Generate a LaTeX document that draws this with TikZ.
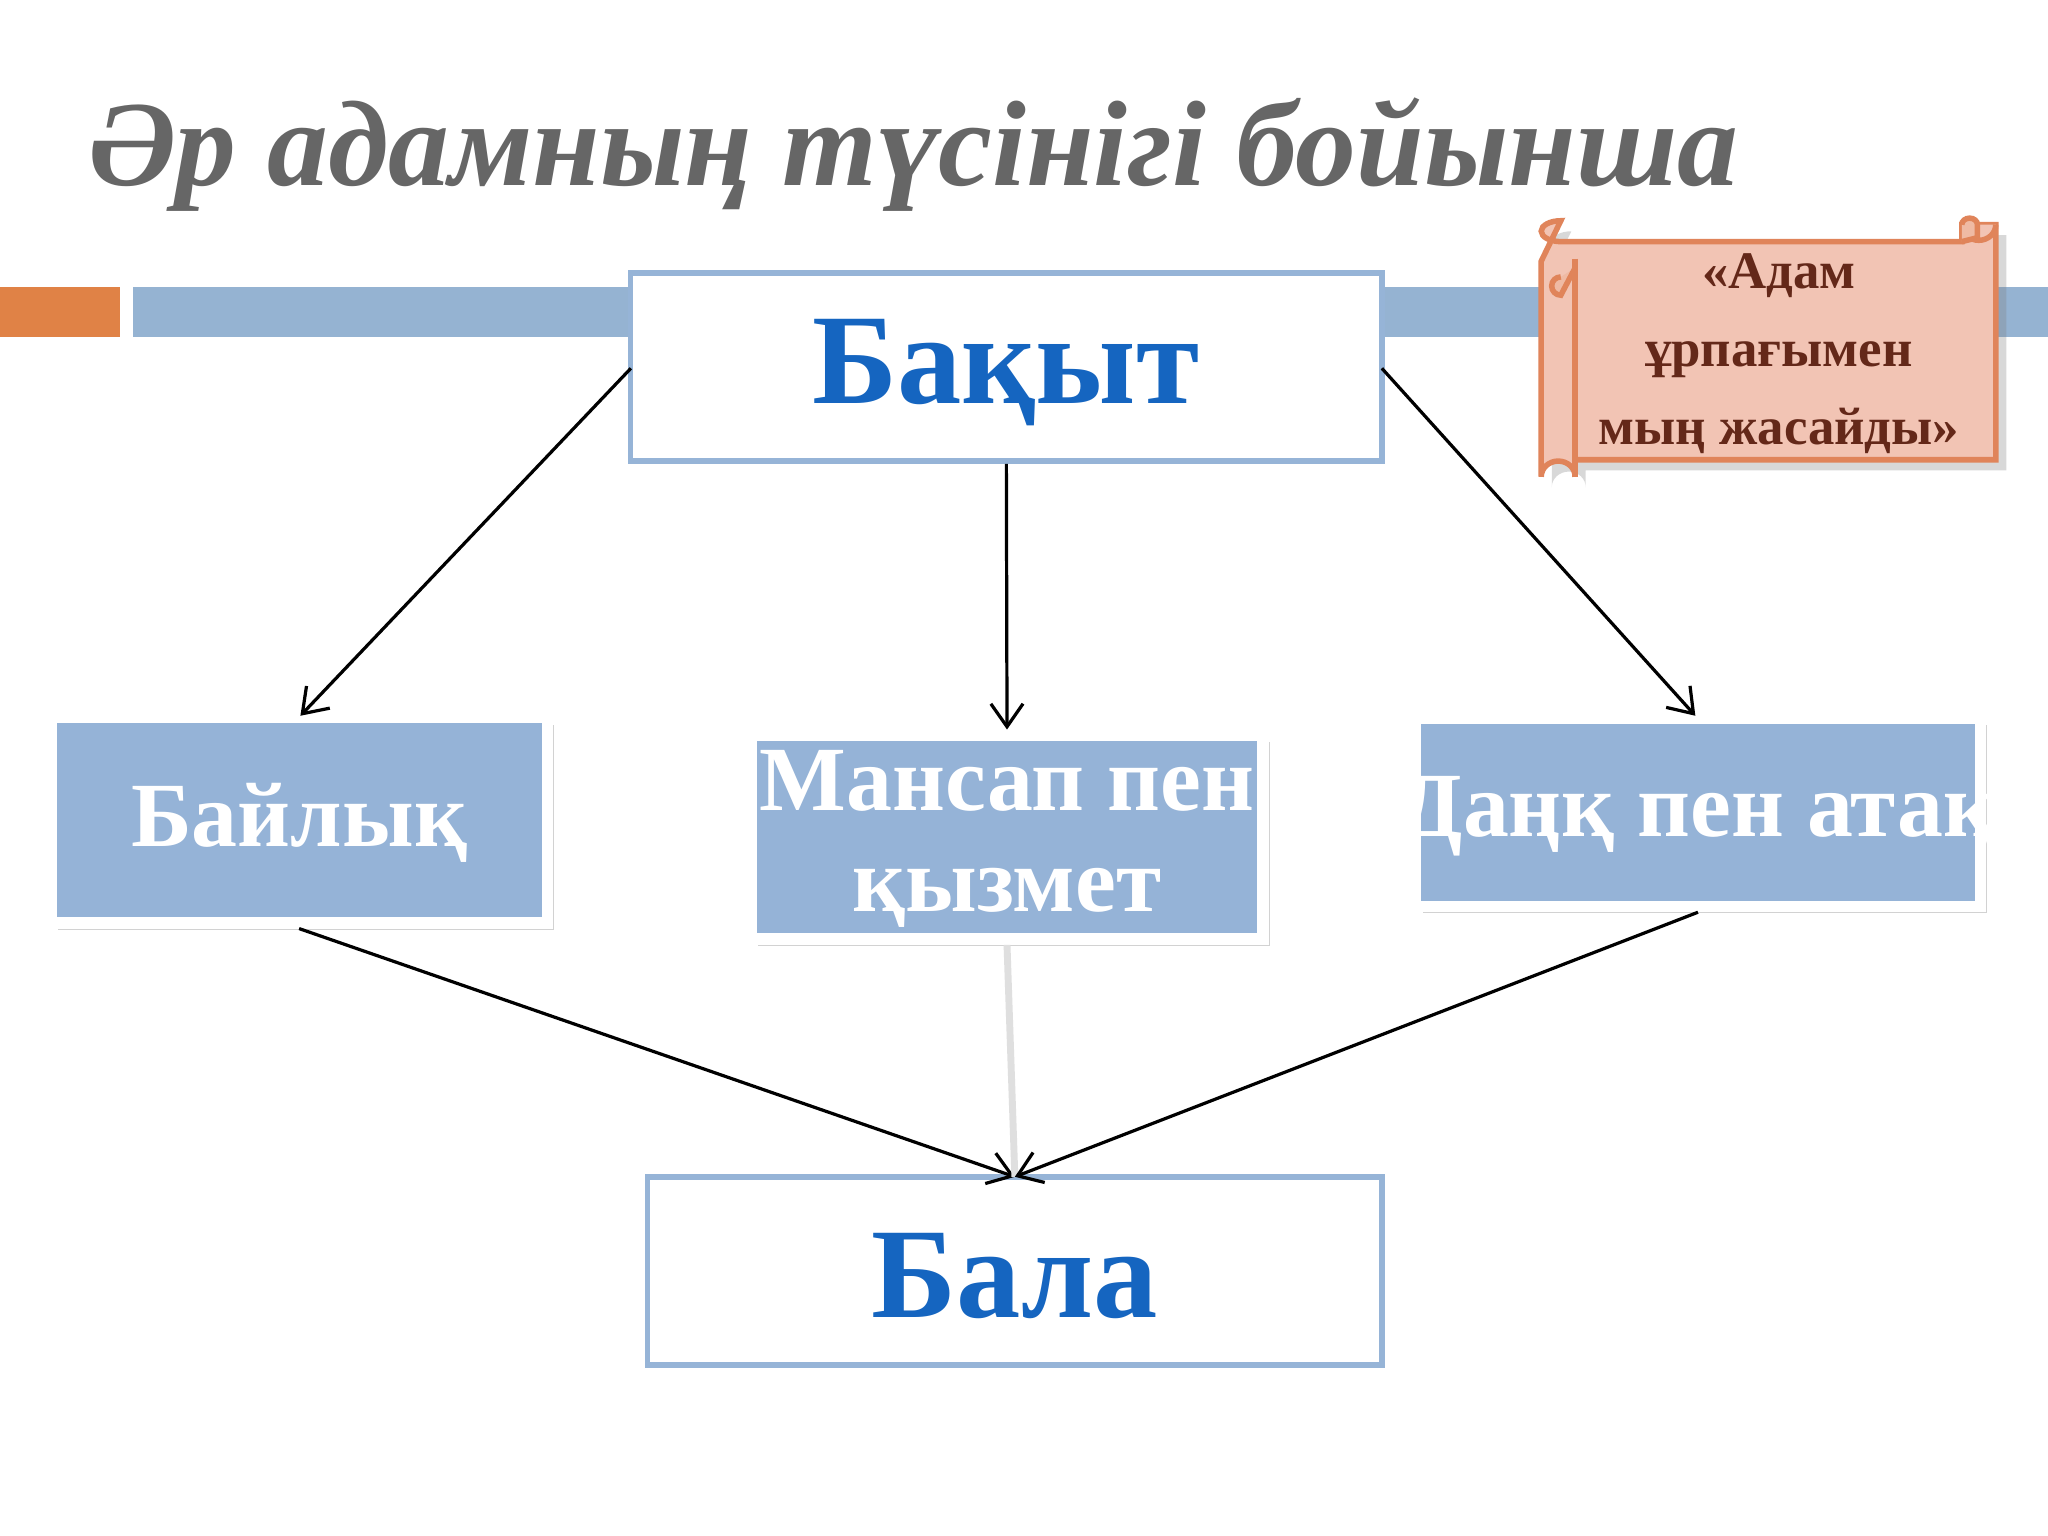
\documentclass[tikz,border=0pt]{standalone}
\usepackage{fontspec}
\setmainfont{Liberation Serif}
\usetikzlibrary{arrows.meta,shadows}
\definecolor{barblue}{RGB}{149,179,210}
\definecolor{boxblue}{RGB}{149,179,215}
\definecolor{bordblue}{RGB}{150,180,215}
\definecolor{txtblue}{RGB}{21,101,192}
\definecolor{orng}{RGB}{224,130,70}
\definecolor{scrollfill}{RGB}{242,196,180}
\definecolor{scrollbord}{RGB}{224,132,90}
\definecolor{brown}{RGB}{100,40,25}
\tikzset{
 wbox/.style={draw=bordblue,line width=1.2pt,fill=white,inner sep=0pt},
 bbox/.style={draw=white,line width=2.5pt,fill=boxblue,inner sep=0pt,
   drop shadow={opacity=0.35,shadow xshift=1.5pt,shadow yshift=-1.5pt}},
 btxt/.style={text=white,font=\bfseries\fontsize{20}{24}\selectfont,align=center},
 arr/.style={-{Straight Barb[length=5pt,width=7pt]},line width=0.7pt}
}
\begin{document}
\begin{tikzpicture}[x=0.01cm,y=-0.01cm]
\useasboundingbox (0,0) rectangle (1568,1176);
\fill[white] (0,0) rectangle (1568,1176);
% title
\node[anchor=west,text=gray!80!black,font=\bfseries\itshape\fontsize{26.5}{30}\selectfont] (title) at (55,118) {Әр адамның түсінігі бойынша};
% bars
\fill[orng] (0,220) rectangle (92,258);
\fill[barblue] (102,220) rectangle (1568,258);
% boxes
\node[wbox,minimum width=5.75cm,minimum height=1.44cm] (bakyt) at (770.5,281) {};
\node[text=txtblue,font=\bfseries\fontsize{28}{32}\selectfont] at (770,285) {Бақыт};
\node[bbox,minimum width=3.8cm,minimum height=1.57cm] (bay) at (229,628) {};
\node[btxt] at (229,630) {Байлық};
\node[bbox,minimum width=3.92cm,minimum height=1.56cm] (man) at (771,641) {};
\node[btxt,font=\bfseries\fontsize{20}{22}\selectfont] at (771,642) {Мансап пен\\қызмет};
\node[bbox,minimum width=4.32cm,minimum height=1.44cm] (dank) at (1300,622) {};
\node[btxt] at (1300,625) {Даңқ пен атақ};
\node[wbox,minimum width=5.62cm,minimum height=1.44cm] (bala) at (777,973) {};
\node[text=txtblue,font=\bfseries\fontsize{28}{32}\selectfont] at (777,977) {Бала};
% scroll
\begin{scope}[draw=scrollbord,line width=1.2pt]
\filldraw[fill=scrollfill,drop shadow={opacity=0.3}] (1180,200) -- (1180,365) arc (180:360:13 and 12) -- (1206,352) -- (1528,352) -- (1528,172) -- (1502,172) -- (1502,185) -- (1195,185) arc (90:270:15 and 8) -- cycle;
\filldraw[fill=scrollfill] (1502,172) arc (180:0:13 and 12) ;
\filldraw[fill=scrollfill!85!orng] (1502,172) arc (180:360:6 and 5) -- (1514,182) -- (1502,185);
\filldraw[fill=scrollfill!85!orng] (1195,212) arc (270:90:7 and 7) -- (1206,205);
\draw (1206,198) -- (1206,365);
\end{scope}
\node[text=brown,font=\bfseries\fontsize{11.5}{17}\selectfont,align=center] (scr) at (1362,271) {«Адам\\ұрпағымен\\мың жасайды»};
% arrows
\coordinate (bl) at (483,282); \coordinate (br) at (1058,282);
\coordinate (t1) at (230,548); \coordinate (t3) at (1298,548);
\coordinate (m) at (777,901);
\draw[arr] (bl) -- (t1);
\draw[arr] (bakyt.south) -- (man.north);
\draw[arr] (br) -- (t3);
\draw[arr] (bay.south) -- (m);
\draw[gray!25,line width=1.5pt] (man.south) -- (m);
\draw[arr] (dank.south) -- (m);
\end{tikzpicture}
\end{document}
